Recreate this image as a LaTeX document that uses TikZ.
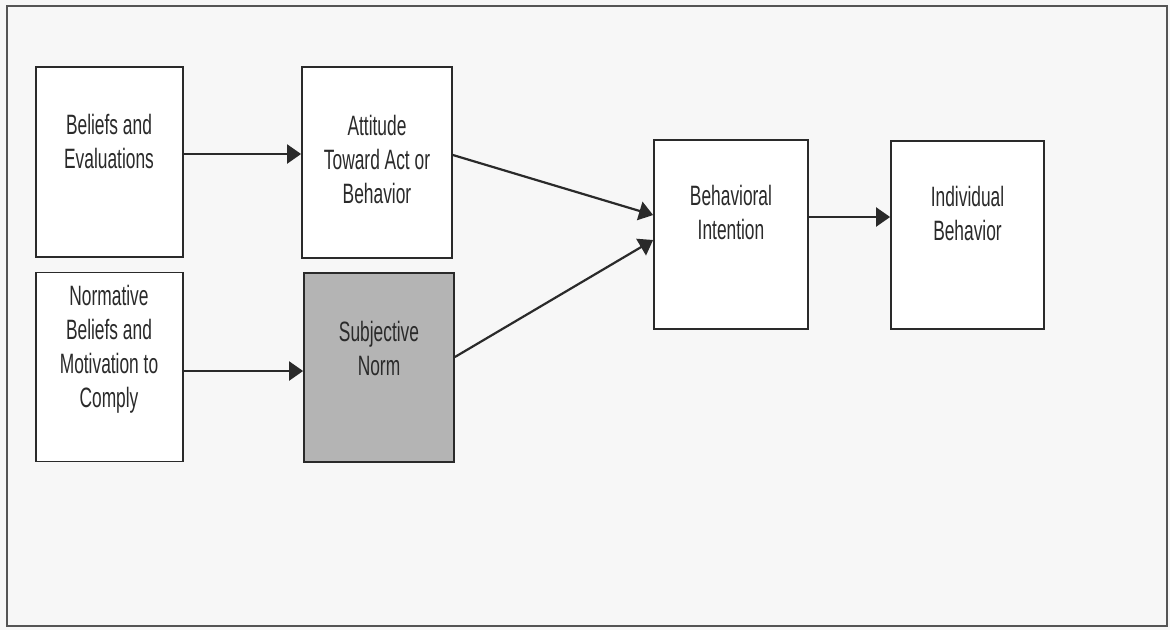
\documentclass[tikz,border=0pt]{standalone}
\usepackage{fontspec}
\setmainfont{Liberation Sans}[FakeStretch=0.62]
\usetikzlibrary{arrows.meta}
\definecolor{paper}{HTML}{F7F7F7}
\definecolor{ink}{HTML}{2A2A2A}
\definecolor{shade}{HTML}{B4B4B4}
\begin{document}
\begin{tikzpicture}[x=1pt,y=-1pt,
  box/.style={draw=ink,line width=1.8pt,fill=white,inner sep=0pt},
  shadebox/.style={box,fill=shade},
  lbl/.style={align=center,text=ink,font=\fontsize{28}{34}\selectfont,inner sep=0pt},
  arr/.style={draw=ink,line width=2.2pt,-{Triangle[length=14pt,width=19pt]}}]
  % page and frame
  \useasboundingbox (0,0) rectangle (1170,630);
  \fill[paper] (0,0) rectangle (1170,630);
  \draw[ink!80,line width=1.6pt] (7,6) rectangle (1167,626);

  % boxes
  \node[box,minimum width=147pt,minimum height=190pt] (bel) at (109.5,162) {};
  \node[box,minimum width=150pt,minimum height=191pt] (att) at (377,162.5) {};
  \node[box,minimum width=147pt,minimum height=189pt] (nor) at (109.5,367) {};
  \node[shadebox,minimum width=150pt,minimum height=189pt] (sub) at (379,367.5) {};
  \node[box,minimum width=154pt,minimum height=189pt] (int) at (731,234.5) {};
  \node[box,minimum width=153pt,minimum height=188pt] (ind) at (967.5,235) {};

  % labels
  \node[lbl] (tbel) at (109,141) {Beliefs and\\Evaluations};
  \node[lbl] (tatt) at (377,159) {Attitude\\Toward Act or\\Behavior};
  \node[lbl] (tnor) at (109,349) {Normative\\Beliefs and\\Motivation to\\Comply};
  \node[lbl] (tsub) at (379,348) {Subjective\\Norm};
  \node[lbl] (tint) at (731,212) {Behavioral\\Intention};
  \node[lbl] (tind) at (967.5,213) {Individual\\Behavior};

  % connectors
  \draw[arr] (bel.east |- 0,154) -- (att.west |- 0,154);
  \draw[arr] (nor.east |- 0,371) -- (sub.west |- 0,371);
  \draw[arr] (att.east |- 0,155) -- (int.west |- 0,215);
  \draw[arr] (sub.east |- 0,357) -- (int.west |- 0,240);
  \draw[arr] (int.east |- 0,217) -- (ind.west |- 0,217);
\end{tikzpicture}
\end{document}
